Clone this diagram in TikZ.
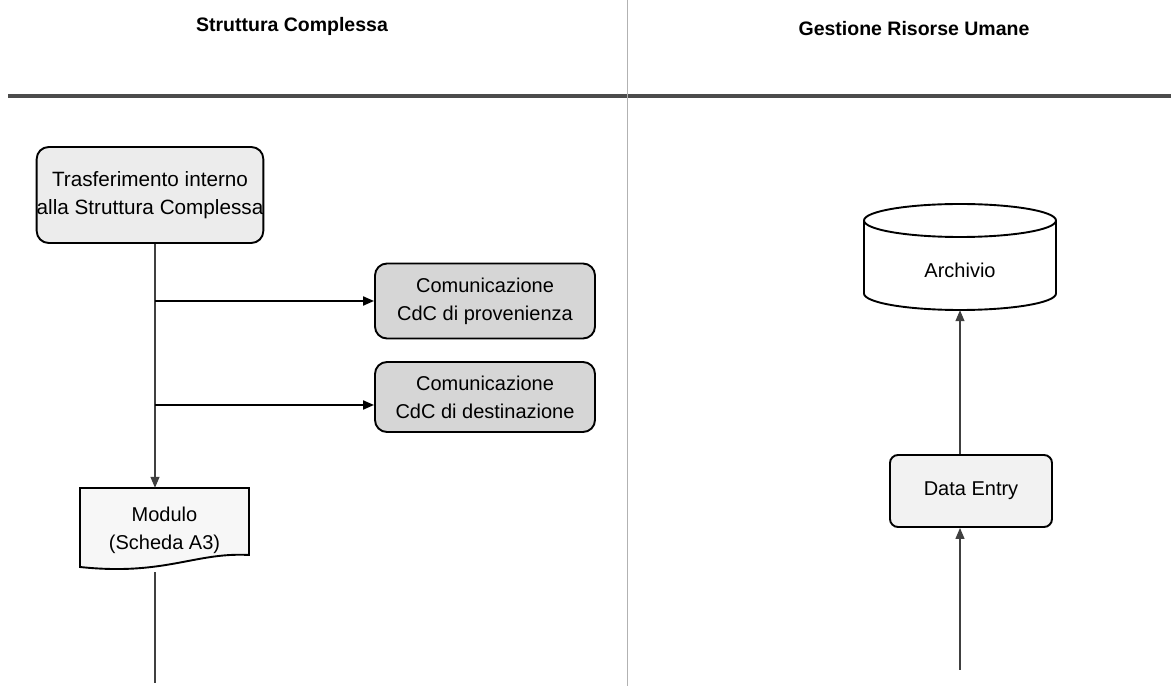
\documentclass[tikz,border=0pt]{standalone}
\usepackage{fontspec}
\setmainfont{Liberation Sans}
\usetikzlibrary{arrows.meta,calc}
\begin{document}
\begin{tikzpicture}[x=1pt,y=1pt,
  box/.style={draw=black, line width=1.9pt, rounded corners=12pt, align=center,
    font=\fontsize{20}{28}\selectfont, inner sep=0pt},
  title/.style={font=\bfseries\fontsize{19.5}{23}\selectfont},
  vconn/.style={line width=1.2pt, draw=black!75},
  hconn/.style={line width=2pt, draw=black},
  tip/.style={-{Triangle[length=11pt,width=9pt]}},
  shapeline/.style={draw=black, line width=1.9pt}]
\useasboundingbox (0,0) rectangle (1171,686);
% lanes
\node[title] (t1) at (292,660) {Struttura Complessa};
\node[title] (t2) at (914,657) {Gestione Risorse Umane};
\draw[black!70, line width=3.5pt] (8,590) -- (1171,590);
\draw[gray!60, line width=0.8pt] (627,686) -- (627,0);
% left lane
\node[box, fill=gray!15, minimum width=220pt, minimum height=96pt,
  font=\fontsize{20.7}{28}\selectfont] (tr) at (150,491)
  {Trasferimento interno\\alla Struttura Complessa};
\node[box, fill=gray!32, minimum width=220pt, minimum height=75pt] (c1) at (485,385)
  {Comunicazione\\CdC di provenienza};
\node[box, fill=gray!32, minimum width=220pt, minimum height=70pt] (c2) at (485,289)
  {Comunicazione\\CdC di destinazione};
\filldraw[shapeline, fill=gray!6] (80,198) -- (249,198) -- (249,131)
  .. controls (195,134) and (165,110) .. (80,119) -- cycle;
\node[align=center, font=\fontsize{20}{28}\selectfont, minimum width=169pt,
  minimum height=84pt, inner sep=0pt] (mod) at (164.5,156) {Modulo\\(Scheda A3)};
% right lane
\fill[white] (864,465.5) -- (864,392.5) arc[start angle=180,end angle=360,x radius=96,y radius=16.5]
  -- (1056,465.5) arc[start angle=0,end angle=180,x radius=96,y radius=16.5] -- cycle;
\draw[shapeline] (864,465.5) -- (864,392.5)
  arc[start angle=180,end angle=360,x radius=96,y radius=16.5] -- (1056,465.5);
\draw[shapeline] (960,465.5) ellipse[x radius=96, y radius=16.5];
\node[minimum width=192pt, minimum height=106pt, inner sep=0pt,
  label={[font=\fontsize{20}{24}\selectfont, yshift=-13pt]center:Archivio}] (arch) at (960,429) {};
\node[box, fill=gray!10, rounded corners=8pt, minimum width=162pt, minimum height=72pt] (de)
  at (971,195) {Data Entry};
% connectors
\coordinate (trunk) at (155,3);
\coordinate (end2) at (960,16);
\draw[vconn, tip] (trunk |- tr.south) -- (trunk |- mod.north);
\draw[hconn, tip] (trunk |- c1.west) -- (c1.west);
\draw[hconn, tip] ($(trunk |- c2.west)+(0,-8)$) -- ($(c2.west)+(0,-8)$);
\draw[vconn] (trunk |- mod.south) -- (trunk);
\draw[vconn, tip] (end2) -- (end2 |- de.south);
\draw[vconn, tip] (arch.south |- de.north) -- (arch.south);
\end{tikzpicture}
\end{document}
